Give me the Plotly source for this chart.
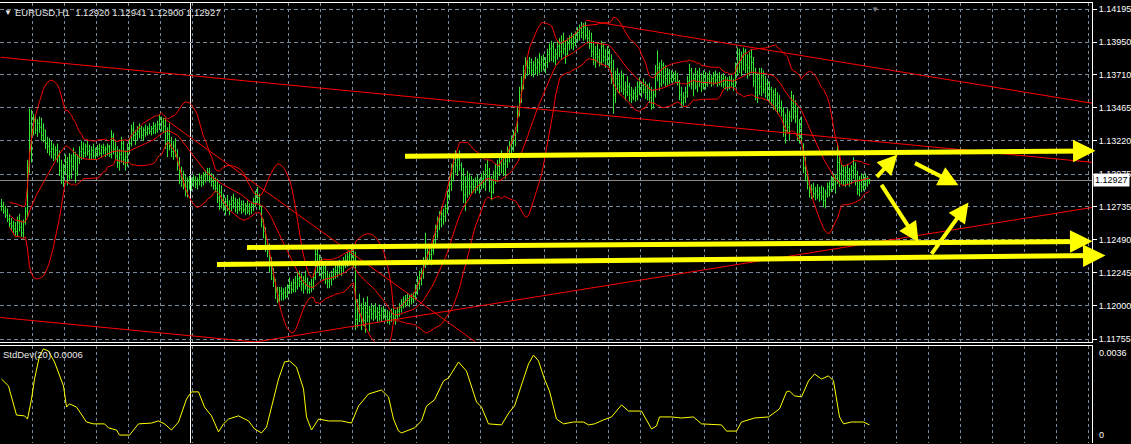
import plotly.graph_objects as go
import pandas as pd

# ---------------- data ----------------
# EURUSD H1 bars; prices in 1e-4 units (11293 -> 1.1293)
bar_high = [
11279,11277,11274,11272,11268,11265,11263,11262,11266,11268,
11263,11264,11273,11308,11346,11345,11342,11341,11338,11340,
11339,11335,11330,11325,11324,11322,11320,11318,11320,11315,
11308,11305,11312,11310,11313,11312,11317,11314,11312,11318,
11322,11321,11320,11322,11319,11318,11320,11317,11319,11320,
11319,11320,11318,11320,11319,11330,11328,11322,11318,11316,
11325,11322,11315,11320,11324,11334,11336,11330,11333,11335,
11333,11332,11334,11333,11335,11333,11336,11335,11337,11341,
11340,11339,11339,11332,11335,11325,11322,11324,11316,11310,
11303,11300,11297,11295,11296,11295,11297,11296,11295,11298,
11297,11299,11300,11302,11302,11298,11297,11295,11294,11290,
11289,11283,11280,11282,11278,11281,11283,11280,11279,11280,
11278,11278,11276,11278,11276,11277,11280,11285,11288,11283,
11274,11264,11258,11248,11246,11236,11228,11220,11214,11214,
11214,11213,11214,11216,11221,11218,11220,11222,11225,11226,
11224,11222,11226,11221,11218,11220,11224,11245,11242,11238,
11236,11232,11230,11226,11224,11226,11228,11230,11232,11234,
11233,11236,11238,11240,11241,11242,11243,11240,11205,11209,
11202,11206,11203,11207,11200,11202,11200,11202,11199,11201,
11199,11200,11198,11197,11196,11198,11199,11197,11199,11202,
11205,11207,11208,11209,11208,11209,11210,11216,11222,11226,
11228,11236,11254,11244,11245,11243,11252,11260,11266,11270,
11273,11272,11275,11285,11296,11305,11312,11315,11312,11315,
11306,11302,11296,11300,11298,11296,11294,11295,11297,11294,
11298,11300,11305,11308,11302,11296,11300,11305,11308,11312,
11315,11313,11310,11318,11322,11326,11330,11332,11348,11362,
11370,11378,11384,11382,11384,11383,11381,11384,11383,11387,
11385,11386,11384,11390,11394,11396,11395,11390,11396,11398,
11400,11402,11396,11398,11400,11402,11401,11403,11406,11408,
11410,11409,11410,11406,11404,11402,11396,11392,11394,11390,
11396,11394,11390,11392,11390,11386,11382,11374,11376,11372,
11374,11372,11366,11370,11365,11362,11360,11362,11366,11369,
11366,11368,11366,11364,11365,11362,11360,11378,11389,11380,
11382,11380,11378,11376,11375,11374,11373,11374,11372,11367,
11362,11358,11362,11370,11379,11376,11372,11376,11374,11376,
11372,11374,11373,11372,11374,11371,11373,11374,11372,11373,
11371,11372,11370,11369,11370,11371,11368,11380,11391,11390,
11388,11391,11390,11386,11388,11390,11384,11376,11372,11376,
11376,11374,11370,11368,11366,11362,11360,11361,11358,11356,
11352,11347,11342,11346,11344,11359,11356,11352,11347,11338,
11340,11320,11310,11300,11292,11290,11291,11288,11290,11288,
11289,11288,11286,11291,11292,11296,11298,11297,11320,11312,
11305,11304,11303,11305,11302,11304,11310,11306,11300,11296,
11298,11297,11298,11296,11294]
bar_low = [
11270,11268,11265,11262,11258,11256,11254,11252,11251,11255,
11251,11250,11260,11265,11298,11306,11326,11327,11325,11328,
11322,11321,11316,11313,11311,11309,11307,11308,11306,11296,
11290,11288,11297,11289,11293,11294,11300,11291,11296,11305,
11308,11309,11310,11311,11308,11308,11309,11308,11310,11311,
11310,11312,11310,11311,11310,11309,11312,11308,11302,11300,
11306,11304,11300,11303,11312,11318,11322,11319,11322,11324,
11323,11322,11325,11326,11327,11326,11327,11327,11328,11330,
11329,11328,11316,11310,11315,11310,11308,11310,11300,11290,
11288,11286,11281,11280,11286,11285,11288,11287,11286,11289,
11288,11289,11291,11292,11291,11288,11286,11284,11276,11271,
11272,11270,11267,11270,11267,11270,11272,11269,11268,11270,
11268,11269,11267,11268,11267,11268,11270,11273,11276,11271,
11258,11250,11240,11236,11225,11219,11214,11205,11202,11203,
11204,11204,11205,11206,11209,11209,11210,11210,11212,11214,
11211,11209,11212,11209,11209,11210,11212,11219,11225,11222,
11220,11219,11216,11213,11213,11215,11219,11220,11221,11223,
11222,11225,11228,11229,11230,11231,11228,11182,11184,11188,
11182,11185,11180,11188,11181,11190,11189,11190,11188,11189,
11188,11190,11189,11187,11186,11188,11189,11186,11190,11192,
11195,11198,11199,11200,11199,11201,11202,11204,11208,11212,
11215,11220,11228,11230,11232,11230,11238,11245,11250,11256,
11258,11260,11262,11268,11278,11285,11292,11298,11296,11300,
11285,11276,11270,11280,11282,11283,11284,11283,11285,11283,
11286,11287,11285,11293,11284,11278,11283,11290,11292,11296,
11298,11296,11294,11302,11306,11310,11314,11318,11328,11340,
11350,11360,11368,11370,11371,11370,11369,11371,11370,11372,
11373,11374,11372,11376,11380,11381,11380,11378,11382,11384,
11382,11386,11379,11385,11389,11390,11389,11392,11395,11396,
11398,11396,11397,11394,11390,11384,11378,11376,11380,11377,
11378,11380,11376,11378,11376,11364,11342,11350,11358,11357,
11358,11356,11352,11355,11351,11350,11352,11351,11352,11356,
11354,11357,11353,11352,11350,11345,11346,11354,11366,11359,
11362,11364,11362,11363,11364,11365,11366,11365,11363,11352,
11347,11348,11350,11354,11362,11360,11355,11360,11358,11362,
11358,11360,11360,11362,11364,11362,11363,11364,11362,11363,
11362,11361,11360,11359,11360,11362,11359,11362,11370,11372,
11370,11374,11372,11368,11370,11372,11362,11352,11350,11356,
11355,11357,11354,11352,11350,11348,11345,11344,11342,11343,
11340,11325,11320,11328,11322,11336,11338,11335,11322,11320,
11321,11298,11292,11286,11280,11279,11280,11278,11279,11277,
11278,11273,11272,11280,11281,11284,11286,11283,11290,11288,
11290,11289,11288,11290,11288,11290,11294,11289,11282,11281,
11284,11285,11286,11288,11290]
bar_close = [
11274,11270,11267,11264,11261,11259,11257,11255,11262,11258,
11254,11262,11270,11302,11335,11330,11338,11330,11335,11332,
11326,11330,11320,11318,11314,11316,11312,11315,11310,11300,
11295,11301,11306,11296,11307,11303,11311,11298,11309,11314,
11316,11313,11318,11314,11312,11315,11311,11314,11316,11313,
11317,11315,11316,11318,11312,11325,11316,11311,11306,11312,
11320,11308,11310,11316,11320,11330,11326,11327,11329,11331,
11326,11330,11328,11331,11329,11331,11333,11330,11334,11338,
11336,11333,11320,11327,11318,11314,11318,11312,11304,11296,
11292,11290,11288,11292,11290,11292,11293,11290,11293,11295,
11291,11296,11297,11299,11294,11292,11289,11287,11280,11284,
11276,11274,11277,11272,11275,11278,11276,11273,11276,11272,
11275,11271,11274,11270,11273,11275,11277,11282,11280,11274,
11262,11255,11244,11240,11230,11224,11218,11210,11208,11211,
11209,11210,11207,11213,11215,11212,11217,11214,11220,11218,
11216,11219,11215,11212,11216,11214,11221,11238,11230,11234,
11224,11228,11220,11218,11220,11222,11225,11226,11229,11228,
11230,11233,11234,11236,11238,11236,11232,11190,11196,11192,
11198,11189,11195,11192,11197,11194,11196,11192,11195,11193,
11196,11194,11192,11190,11192,11194,11191,11193,11196,11199,
11202,11203,11205,11204,11206,11205,11207,11212,11218,11220,
11224,11232,11236,11240,11238,11241,11248,11255,11262,11264,
11268,11266,11272,11282,11290,11298,11306,11304,11308,11304,
11290,11282,11288,11294,11288,11290,11288,11292,11289,11291,
11294,11290,11300,11296,11288,11284,11296,11298,11303,11306,
11310,11305,11307,11314,11318,11322,11326,11330,11344,11356,
11366,11374,11378,11376,11380,11374,11378,11376,11380,11378,
11382,11379,11380,11386,11390,11392,11384,11386,11392,11388,
11394,11390,11386,11394,11396,11394,11398,11400,11402,11405,
11402,11406,11400,11398,11394,11388,11382,11386,11384,11380,
11392,11384,11382,11388,11380,11370,11356,11368,11364,11362,
11370,11360,11358,11362,11356,11354,11357,11355,11362,11360,
11363,11360,11358,11361,11354,11350,11356,11372,11376,11364,
11378,11370,11368,11372,11368,11370,11368,11371,11366,11356,
11350,11354,11358,11366,11374,11364,11368,11362,11370,11366,
11364,11370,11364,11368,11366,11368,11370,11367,11369,11366,
11368,11364,11366,11362,11367,11364,11362,11376,11386,11380,
11384,11388,11378,11376,11384,11380,11366,11358,11368,11362,
11370,11360,11364,11356,11360,11352,11356,11348,11350,11346,
11344,11330,11336,11332,11340,11350,11344,11340,11326,11332,
11324,11302,11296,11290,11284,11286,11283,11285,11282,11284,
11281,11278,11283,11288,11286,11292,11290,11294,11306,11298,
11300,11296,11299,11294,11297,11300,11302,11292,11286,11290,
11288,11292,11290,11293,11293]
first_open = 11276
last_bid = 1.12927
header_text = "EURUSD,H1  1.12920 1.12941 1.12900 1.12927"
bb_period = 20

price_ticks = [1.11755, 1.12000, 1.12245, 1.12490, 1.12735, 1.12975,
               1.13220, 1.13465, 1.13710, 1.13950, 1.14195]

# StdDev(20) panel, read at bar positions
stddev_bar = [0, 3.5, 7.5, 11.5, 13, 15, 16.5, 19, 21, 23.5, 26.5, 31, 32.5, 34, 37.5,
              42.5, 46, 51.5, 53.5, 57.5, 59, 64, 68.5, 75, 78.5, 81.5, 85, 88.5, 92.5,
              95, 98.5, 101.5, 105, 108.5, 111, 113.5, 118.5, 123.5, 126.5, 130, 132.5,
              135, 138.5, 141.5, 144, 147.5, 151, 152.5, 155, 158.5, 163.5, 170, 175,
              178.5, 183.5, 190, 193.5, 196, 198.5, 200, 206.5, 210, 212.5, 216.5, 221,
              223.5, 228.5, 232.5, 237.5, 240, 243.5, 250, 254, 256.5, 260, 263.5, 266,
              268.5, 271.5, 274, 277.5, 281, 286, 291, 293.5, 296.5, 301, 305, 310,
              313.5, 320, 325, 327.5, 329, 335, 340, 346, 350, 360, 362.5, 367.5, 370,
              376.5, 383.5, 389, 392.5, 394, 396.5, 400, 403.5, 406.5, 410, 413.5, 416,
              419, 421, 425, 431, 434]
stddev_val = [0.00236, 0.00210, 0.00101, 0.00098, 0.00086, 0.00161, 0.00236, 0.00323,
              0.00349, 0.00341, 0.00300, 0.00210, 0.00131, 0.00143, 0.00131, 0.00075,
              0.00068, 0.00068, 0.00053, 0.00045, 0.00026, 0.00026, 0.00068, 0.00071,
              0.00079, 0.00068, 0.00045, 0.00075, 0.00161, 0.00188, 0.00188, 0.00131,
              0.00098, 0.00038, 0.00068, 0.00086, 0.00098, 0.00079, 0.00049, 0.00034,
              0.00056, 0.00135, 0.00236, 0.00300, 0.00304, 0.00281, 0.00199, 0.00094,
              0.00045, 0.00086, 0.00079, 0.00079, 0.00071, 0.00135, 0.00180, 0.00195,
              0.00169, 0.00086, 0.00041, 0.00034, 0.00053, 0.00079, 0.00135, 0.00158,
              0.00229, 0.00240, 0.00300, 0.00266, 0.00150, 0.00131, 0.00068, 0.00064,
              0.00113, 0.00135, 0.00210, 0.00293, 0.00326, 0.00304, 0.00236, 0.00191,
              0.00086, 0.00068, 0.00075, 0.00075, 0.00064, 0.00068, 0.00083, 0.00094,
              0.00139, 0.00116, 0.00116, 0.00049, 0.00060, 0.00094, 0.00094, 0.00090,
              0.00094, 0.00068, 0.00064, 0.00041, 0.00041, 0.00075, 0.00090, 0.00094,
              0.00124, 0.00188, 0.00191, 0.00173, 0.00169, 0.00229, 0.00255, 0.00236,
              0.00248, 0.00229, 0.00094, 0.00068, 0.00075, 0.00075, 0.00064]
stddev_ticks = [0.0036, 0]
stddev_ticktext = ["0.0036", "0"]

# red trend lines (bar index, price)
trend_x0 = [-0.5, 292, 127, -0.5, 81]
trend_y0 = [1.13838, 1.14112, 1.11733, 1.11914, 1.13389]
trend_x1 = [545.5, 545.5, 545.5, 150, 237]
trend_y1 = [1.13061, 1.13498, 1.12728, 1.11700, 1.11733]

# yellow arrows (tail -> head), bar index / price
arrow_tail_x = [201, 122, 107, 437, 456, 439.5, 464.5]
arrow_tail_y = [1.13106, 1.12432, 1.12306, 1.12943, 1.13061, 1.12906, 1.12373]
arrow_head_x = [547, 545.5, 552, 448, 478.5, 458.5, 483.5]
arrow_head_y = [1.13146, 1.12477, 1.12373, 1.13120, 1.12891, 1.12470, 1.12765]
arrow_size = ["big", "big", "big", "small", "small", "small", "small"]

vertical_line_bars = [94.5]
grid_first_bar, grid_step = 15.5, 16
separator_first_bar, separator_step = 22.5, 24

# ---------------- styling / layout ----------------
W, H = 1131, 444
GREEN = "#33e633"
RED = "#ff0000"
YELLOW = "#ffff00"
GRID = "#778899"
FONT = "Liberation Sans, Arial, sans-serif"
XDOM = [0, 1092 / W]
XRANGE = [-0.75, 545.25]
TOP_M, BOT_M = 3, 1
PH = H - TOP_M - BOT_M
MAIN_DOM = [(H - BOT_M - 342) / PH, 1]
LOW_DOM = [0, (H - BOT_M - 346) / PH]
px_price = 0.0244 / 330
Y_MAIN = [price_ticks[0] - 3 * px_price, price_ticks[-1] + 6 * px_price]
px_sd = 0.0036 / 96
Y_LOW = [-1 * px_sd, 96 * px_sd]
TICK = 0.45  # half-width of open/close ticks in bars
LABEL_X = 1097 / W

n = min(len(bar_high), len(bar_low), len(bar_close))
hi = [v / 1e4 for v in bar_high[:n]]
lo = [v / 1e4 for v in bar_low[:n]]
cl = [v / 1e4 for v in bar_close[:n]]
op = []
prev = first_open
for i in range(n):
    op.append(min(max(prev, bar_low[i]), bar_high[i]) / 1e4)
    prev = bar_close[i]

fig = go.Figure()

# OHLC bars (MT4 "bar chart" style) drawn as line segments in data space
bx, by = [], []
for i in range(n):
    bx += [i, i, None, i - TICK, i, None, i, i + TICK, None]
    by += [lo[i], hi[i], None, op[i], op[i], None, cl[i], cl[i], None]
fig.add_trace(go.Scatter(x=bx, y=by, mode="lines", line=dict(color=GREEN, width=1),
                         hoverinfo="skip", xaxis="x", yaxis="y", connectgaps=False))

bars = list(range(n))
s = pd.Series(cl)
mid = s.rolling(bb_period, min_periods=5).mean()
dev = s.rolling(bb_period, min_periods=5).std(ddof=0)
for band in (mid + 2 * dev, mid, mid - 2 * dev):
    fig.add_trace(go.Scatter(x=bars, y=band, mode="lines", line=dict(color=RED, width=1),
                             hoverinfo="skip", xaxis="x", yaxis="y"))

for x0, y0, x1, y1 in zip(trend_x0, trend_y0, trend_x1, trend_y1):
    fig.add_trace(go.Scatter(x=[x0, x1], y=[y0, y1], mode="lines",
                             line=dict(color=RED, width=1), hoverinfo="skip",
                             xaxis="x", yaxis="y"))

fig.add_trace(go.Scatter(x=stddev_bar, y=stddev_val, mode="lines",
                         line=dict(color=YELLOW, width=1), hoverinfo="skip",
                         xaxis="x2", yaxis="y2"))

annotations = []
for tx, ty, hx, hy, sz in zip(arrow_tail_x, arrow_tail_y, arrow_head_x, arrow_head_y, arrow_size):
    big = sz == "big"
    annotations.append(dict(x=hx, y=hy, ax=tx, ay=ty, xref="x", yref="y", axref="x", ayref="y",
                            text="", showarrow=True, arrowhead=2,
                            arrowsize=0.9 if big else 1.0, arrowwidth=5 if big else 4,
                            arrowcolor=YELLOW, standoff=0))

# StdDev window scale labels (drawn inside the window like MT4)
for v, t in zip(stddev_ticks, stddev_ticktext):
    annotations.append(dict(xref="paper", yref="y2", x=LABEL_X, y=v, text=t, showarrow=False,
                            xanchor="left", yanchor="top" if v > 0 else "bottom",
                            font=dict(family=FONT, size=9, color="white")))

annotations += [
    dict(xref="paper", yref="paper", x=2 / W, y=(H - BOT_M - 12) / PH, text="▼",
         showarrow=False, xanchor="left", yanchor="middle",
         font=dict(family=FONT, size=8, color="#e8e8e8")),
    dict(xref="paper", yref="paper", x=13 / W, y=(H - BOT_M - 12) / PH, text=header_text,
         showarrow=False, xanchor="left", yanchor="middle",
         font=dict(family=FONT, size=9.5, color="#e8e8e8")),
    dict(xref="paper", yref="paper", x=1 / W, y=(H - BOT_M - 354) / PH,
         text=f"StdDev({bb_period}) {stddev_val[-1]:.4f}",
         showarrow=False, xanchor="left", yanchor="middle",
         font=dict(family=FONT, size=9.5, color="#e8e8e8")),
    dict(xref="paper", yref="y", x=1093 / W, y=last_bid, text=f"{last_bid:.5f}",
         showarrow=False, xanchor="left", yanchor="middle", bgcolor="white",
         borderpad=1, font=dict(family=FONT, size=9, color="black")),
    dict(xref="paper", yref="paper", x=875 / W, y=1, text="▼", showarrow=False,
         xanchor="center", yanchor="top", font=dict(family=FONT, size=8, color="#808080")),
]

shapes = [dict(type="line", xref="x domain", x0=0, x1=1, yref="y", y0=last_bid, y1=last_bid,
               line=dict(color="#8c8c8c", width=1), layer="below")]
for vb in vertical_line_bars:
    shapes.append(dict(type="line", xref="x", x0=vb, x1=vb, yref="paper", y0=0, y1=1,
                       line=dict(color="white", width=1), layer="below"))

common_x = dict(range=XRANGE, domain=XDOM, showticklabels=False, ticks="", zeroline=False,
                fixedrange=True)
tickfont = dict(family=FONT, size=9, color="white")

fig.update_layout(
    template="none", width=W, height=H, showlegend=False, hovermode=False,
    margin=dict(l=0, r=0, t=TOP_M, b=BOT_M),
    paper_bgcolor="black", plot_bgcolor="black",
    xaxis=dict(**common_x, anchor="y", tickmode="linear", tick0=grid_first_bar, dtick=grid_step,
               showgrid=True, gridcolor=GRID, griddash="3px,3px", gridwidth=1,
               showline=True, mirror=True, linecolor="white", linewidth=1),
    xaxis3=dict(**common_x, overlaying="x", anchor="y", tickmode="linear",
                tick0=separator_first_bar, dtick=separator_step,
                showgrid=True, gridcolor="white", griddash="3px,3px", showline=False),
    xaxis2=dict(**common_x, anchor="y2", tickmode="linear", tick0=grid_first_bar, dtick=grid_step,
                showgrid=True, gridcolor=GRID, griddash="3px,3px",
                showline=True, side="top", linecolor="white", linewidth=1),
    xaxis4=dict(**common_x, overlaying="x2", anchor="y2", tickmode="linear",
                tick0=separator_first_bar, dtick=separator_step,
                showgrid=True, gridcolor="white", griddash="3px,3px", showline=False),
    yaxis=dict(domain=MAIN_DOM, range=Y_MAIN, side="right", anchor="x", tickmode="array",
               tickvals=price_ticks, ticktext=[f"{v:.5f}" for v in price_ticks],
               showgrid=True, gridcolor=GRID, griddash="4px,3px", zeroline=False,
               showline=True, linecolor="white", linewidth=1, ticks="outside", ticklen=4,
               tickcolor="white", tickfont=tickfont, automargin=False, fixedrange=True),
    yaxis2=dict(domain=LOW_DOM, range=Y_LOW, side="right", anchor="x2", tickmode="array",
                tickvals=[stddev_ticks[-1]], ticktext=[""], showgrid=True, gridcolor=GRID,
                griddash="4px,3px", zeroline=False, showline=True, linecolor="white",
                linewidth=1, ticks="", showticklabels=False, automargin=False,
                fixedrange=True),
    annotations=annotations, shapes=shapes,
)

fig.write_html("out.html", config={"displayModeBar": False, "staticPlot": True},
               post_script="document.body.style.margin='0';document.body.style.padding='0';"
                           "document.body.style.overflow='hidden';")
